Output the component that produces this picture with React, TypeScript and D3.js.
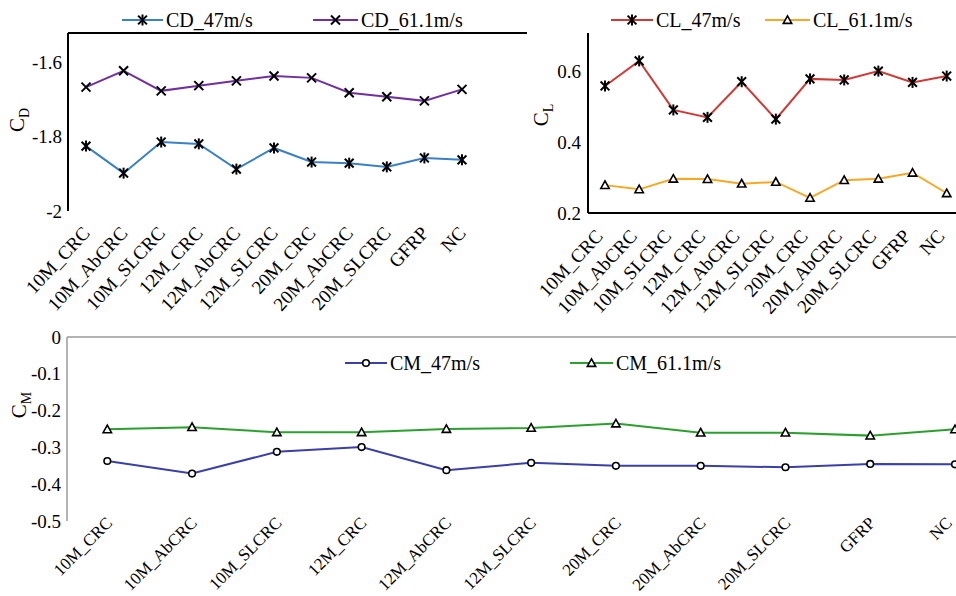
import React from "react";
import * as d3 from "d3";

const categories = [
  "10M_CRC",
  "10M_AbCRC",
  "10M_SLCRC",
  "12M_CRC",
  "12M_AbCRC",
  "12M_SLCRC",
  "20M_CRC",
  "20M_AbCRC",
  "20M_SLCRC",
  "GFRP",
  "NC",
];

// drag coefficient
const cd47 = [-1.825, -1.898, -1.814, -1.819, -1.887, -1.83, -1.868, -1.871, -1.881, -1.857, -1.862];
const cd611 = [-1.666, -1.622, -1.676, -1.662, -1.649, -1.636, -1.641, -1.681, -1.692, -1.703, -1.672];
// lift coefficient
const cl47 = [0.56, 0.631, 0.492, 0.471, 0.572, 0.466, 0.58, 0.577, 0.602, 0.57, 0.588];
const cl611 = [0.279, 0.267, 0.297, 0.296, 0.283, 0.288, 0.243, 0.293, 0.297, 0.314, 0.256];
// moment coefficient
const cm47 = [-0.337, -0.371, -0.312, -0.299, -0.362, -0.342, -0.35, -0.35, -0.354, -0.345, -0.346];
const cm611 = [-0.251, -0.245, -0.259, -0.259, -0.25, -0.247, -0.235, -0.26, -0.26, -0.268, -0.251];

const cdTicks = [-1.6, -1.8, -2];
const clTicks = [0.2, 0.4, 0.6];
const cmTicks = [0, -0.1, -0.2, -0.3, -0.4, -0.5];

const FONT = '"Liberation Serif", "DejaVu Serif", "Times New Roman", serif';

type Marker = "star" | "x" | "tri" | "circle";

const MarkerShape = ({ kind, x, y }: { kind: Marker; x: number; y: number }) => {
  if (kind === "star") {
    const r = 5.5;
    const d = r * 0.8;
    return (
      <g stroke="#000" strokeWidth={2}>
        <line x1={x} y1={y - r} x2={x} y2={y + r} />
        <line x1={x - d} y1={y - d} x2={x + d} y2={y + d} />
        <line x1={x - d} y1={y + d} x2={x + d} y2={y - d} />
      </g>
    );
  }
  if (kind === "x") {
    const d = 4.5;
    return (
      <g stroke="#000" strokeWidth={2}>
        <line x1={x - d} y1={y - d} x2={x + d} y2={y + d} />
        <line x1={x - d} y1={y + d} x2={x + d} y2={y - d} />
      </g>
    );
  }
  if (kind === "tri") {
    const s = 4.2;
    return (
      <path
        d={`M${x},${y - s}L${x + s},${y + s * 0.8}L${x - s},${y + s * 0.8}Z`}
        fill="#fff"
        stroke="#000"
        strokeWidth={1.6}
      />
    );
  }
  return <circle cx={x} cy={y} r={3.3} fill="#fff" stroke="#000" strokeWidth={1.6} />;
};

const Series = ({
  values,
  x,
  y,
  color,
  marker,
}: {
  values: number[];
  x: d3.ScalePoint<string>;
  y: d3.ScaleLinear<number, number>;
  color: string;
  marker: Marker;
}) => {
  const line = d3
    .line<number>()
    .x((_, i) => x(categories[i]) as number)
    .y((d) => y(d));
  return (
    <g>
      <path d={line(values) || ""} fill="none" stroke={color} strokeWidth={2} />
      {values.map((v, i) => (
        <MarkerShape key={i} kind={marker} x={x(categories[i]) as number} y={y(v)} />
      ))}
    </g>
  );
};

const Txt = (props: any) => <text fontFamily={FONT} style={{ fontFamily: FONT }} {...props} />;

const LegendItem = ({
  x1,
  x2,
  y,
  color,
  marker,
  label,
}: {
  x1: number;
  x2: number;
  y: number;
  color: string;
  marker: Marker;
  label: string;
}) => (
  <g>
    <line x1={x1} x2={x2} y1={y} y2={y} stroke={color} strokeWidth={2} />
    <MarkerShape kind={marker} x={(x1 + x2) / 2} y={y} />
    <Txt x={x2 + 3} y={y} dy="0.35em" fontSize={20}>
      {label}
    </Txt>
  </g>
);

const AxisTitle = ({ x, y, sub }: { x: number; y: number; sub: string }) => (
  <Txt transform={`translate(${x},${y}) rotate(-90)`} textAnchor="middle" fontSize={21}>
    C
    <tspan fontSize={14} dy={5}>
      {sub}
    </tspan>
  </Txt>
);

const XLabels = ({
  x,
  y,
  dx,
  size,
  angle,
}: {
  x: d3.ScalePoint<string>;
  y: number;
  dx: number;
  size: number;
  angle: number;
}) => (
  <g>
    {categories.map((c) => (
      <Txt
        key={c}
        fontSize={size}
        // keep the last label inside the page edge
        transform={`translate(${Math.min((x(c) as number) + dx, 953)},${y}) rotate(${angle})`}
        textAnchor="end"
      >
        {c}
      </Txt>
    ))}
  </g>
);

export default function App() {
  // top-left: CD
  const xCd = d3.scalePoint<string>().domain(categories).range([86, 462]);
  const yCd = d3.scaleLinear().domain([-2, -1.52]).range([211, 33]);
  // top-right: CL
  const xCl = d3.scalePoint<string>().domain(categories).range([605, 946.7]);
  const yCl = d3.scaleLinear().domain([0.2, 0.71]).range([213, 33]);
  // bottom: CM
  const xCm = d3.scalePoint<string>().domain(categories).range([107.3, 955]);
  const yCm = d3.scaleLinear().domain([-0.5, 0]).range([521, 337]);

  return (
    <svg
      width={956}
      height={596}
      style={{ position: "absolute", left: 0, top: 0, background: "#fff" }}
      fill="#000"
    >
      {/* CD panel */}
      <line x1={68} x2={68} y1={yCd.range()[1]} y2={yCd.range()[0]} stroke="#000" strokeWidth={2} />
      <line x1={68} x2={527} y1={yCd.range()[1]} y2={yCd.range()[1]} stroke="#000" strokeWidth={2} />
      {cdTicks.map((t) => (
        <Txt key={t} x={62} y={yCd(t)} dy="0.35em" textAnchor="end" fontSize={19}>
          {t}
        </Txt>
      ))}
      <AxisTitle x={24} y={120} sub="D" />
      <Series values={cd47} x={xCd} y={yCd} color="#3a80c8" marker="star" />
      <Series values={cd611} x={xCd} y={yCd} color="#7030a0" marker="x" />
      <XLabels x={xCd} y={234} dx={5} size={19} angle={-47} />
      <LegendItem x1={122} x2={163} y={20} color="#3a80c8" marker="star" label="CD_47m/s" />
      <LegendItem x1={313} x2={358} y={20} color="#7030a0" marker="x" label="CD_61.1m/s" />

      {/* CL panel */}
      <line x1={588} x2={588} y1={yCl.range()[1]} y2={yCl.range()[0]} stroke="#000" strokeWidth={2} />
      <line x1={588} x2={956} y1={yCl.range()[0]} y2={yCl.range()[0]} stroke="#000" strokeWidth={2} />
      {clTicks.map((t) => (
        <Txt key={t} x={581} y={yCl(t)} dy="0.35em" textAnchor="end" fontSize={19}>
          {t}
        </Txt>
      ))}
      <AxisTitle x={548} y={115} sub="L" />
      <Series values={cl47} x={xCl} y={yCl} color="#d03a36" marker="star" />
      <Series values={cl611} x={xCl} y={yCl} color="#f7a823" marker="tri" />
      <XLabels x={xCl} y={237} dx={-1} size={19} angle={-47} />
      <LegendItem x1={611} x2={653} y={20} color="#d03a36" marker="star" label="CL_47m/s" />
      <LegendItem x1={765} x2={810} y={20} color="#f7a823" marker="tri" label="CL_61.1m/s" />

      {/* CM panel */}
      <line x1={67} x2={67} y1={yCm.range()[1]} y2={yCm.range()[0]} stroke="#9a9a9a" strokeWidth={1.5} />
      <line x1={67} x2={956} y1={yCm.range()[1]} y2={yCm.range()[1]} stroke="#9a9a9a" strokeWidth={1.5} />
      {cmTicks.map((t) => (
        <Txt key={t} x={61} y={yCm(t)} dy="0.35em" textAnchor="end" fontSize={19}>
          {t}
        </Txt>
      ))}
      <AxisTitle x={26} y={405} sub="M" />
      <Series values={cm47} x={xCm} y={yCm} color="#3b3fa8" marker="circle" />
      <Series values={cm611} x={xCm} y={yCm} color="#2ba02e" marker="tri" />
      <XLabels x={xCm} y={524} dx={6} size={17} angle={-45} />
      <LegendItem x1={345} x2={387} y={363} color="#3b3fa8" marker="circle" label="CM_47m/s" />
      <LegendItem x1={570} x2={613} y={363} color="#2ba02e" marker="tri" label="CM_61.1m/s" />
    </svg>
  );
}
